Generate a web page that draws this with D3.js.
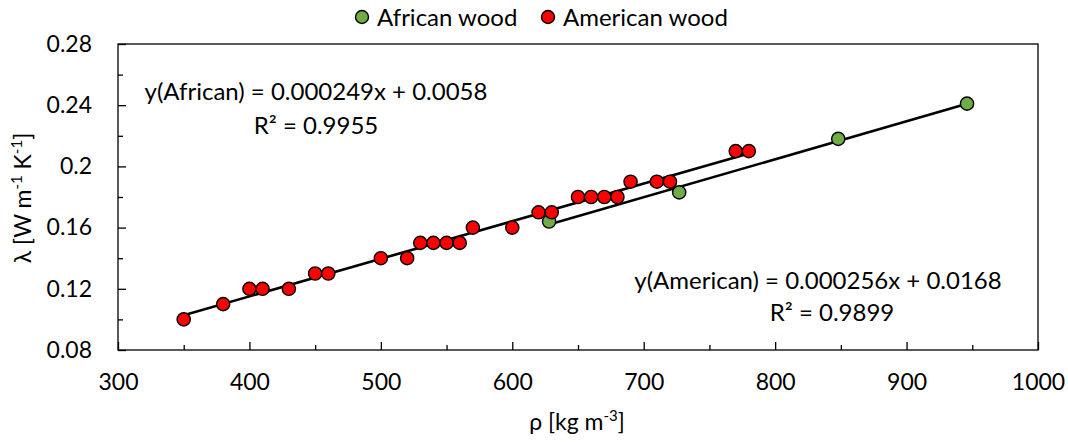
<!DOCTYPE html>
<html>
<head>
<meta charset="utf-8">
<script src="https://cdn.jsdelivr.net/npm/d3@7"></script>
<style>
  body { margin: 0; background: #fff; }
  text { font-family: Lato, "Noto Sans", sans-serif; fill: #000; }
</style>
</head>
<body>
<svg id="chart" width="1068" height="442"></svg>
<script>
// Density (kg m-3) and thermal conductivity (W m-1 K-1) for each wood group
const africanDensity = [628, 727, 848, 946];
const africanLambda  = [0.164, 0.183, 0.218, 0.241];

const americanDensity = [350, 380, 400, 410, 430, 450, 460, 500, 520, 530, 540, 550, 560,
                         570, 600, 620, 630, 650, 660, 670, 680, 690, 710, 720, 770, 780];
const americanLambda  = [0.10, 0.11, 0.12, 0.12, 0.12, 0.13, 0.13, 0.14, 0.14, 0.15, 0.15, 0.15, 0.15,
                         0.16, 0.16, 0.17, 0.17, 0.18, 0.18, 0.18, 0.18, 0.19, 0.19, 0.19, 0.21, 0.21];

const seriesNames = ["African wood", "American wood"];
const seriesColors = ["#70AD47", "#FF0000"];

const xMajorTicks = [300, 400, 500, 600, 700, 800, 900, 1000];
const xMinorTicks = [350, 450, 550, 650, 750, 850, 950];
const yMajorTicks = [0.08, 0.12, 0.16, 0.2, 0.24, 0.28];
const yMinorTicks = [0.10, 0.14, 0.18, 0.22, 0.26];

const africanEquation  = ["y(African) = 0.000249x + 0.0058", "R² = 0.9955"];
const americanEquation = ["y(American) = 0.000256x + 0.0168", "R² = 0.9899"];

const svg = d3.select("#chart");
const plot = { left: 118, top: 44, right: 1038, bottom: 350 };

const x = d3.scaleLinear().domain([300, 1000]).range([plot.left, plot.right]);
const y = d3.scaleLinear().domain([0.08, 0.28]).range([plot.bottom, plot.top]);

// Least-squares linear fit
function linearFit(xs, ys) {
  const mx = d3.mean(xs), my = d3.mean(ys);
  let sxy = 0, sxx = 0;
  xs.forEach((v, i) => { sxy += (v - mx) * (ys[i] - my); sxx += (v - mx) ** 2; });
  const slope = sxy / sxx;
  return { slope, intercept: my - slope * mx };
}

// Plot frame
svg.append("rect")
  .attr("x", plot.left).attr("y", plot.top)
  .attr("width", plot.right - plot.left).attr("height", plot.bottom - plot.top)
  .attr("fill", "none").attr("stroke", "#000").attr("stroke-width", 1.3);

// Axes with inward ticks
svg.append("g").attr("transform", `translate(0,${plot.bottom})`)
  .call(d3.axisBottom(x).tickValues(xMajorTicks).tickSize(-8).tickPadding(24).tickFormat(d3.format("d")));
svg.append("g").attr("transform", `translate(0,${plot.bottom})`)
  .call(d3.axisBottom(x).tickValues(xMinorTicks).tickSize(-5).tickFormat(""));

svg.append("g").attr("transform", `translate(${plot.left},0)`)
  .call(d3.axisLeft(y).tickValues(yMajorTicks).tickSize(-8).tickPadding(26).tickFormat(d => String(+d.toFixed(2))));
svg.append("g").attr("transform", `translate(${plot.left},0)`)
  .call(d3.axisLeft(y).tickValues(yMinorTicks).tickSize(-5).tickFormat(""));

svg.selectAll(".domain").remove();
svg.selectAll(".tick line").attr("stroke", "#000").attr("stroke-width", 1.3);
svg.selectAll(".tick text").attr("font-size", 23).attr("font-family", "Lato, 'Noto Sans', sans-serif").attr("fill", "#000");

// Trend lines
const groups = [
  { xs: africanDensity, ys: africanLambda, color: seriesColors[0] },
  { xs: americanDensity, ys: americanLambda, color: seriesColors[1] }
];

groups.forEach(g => {
  const fit = linearFit(g.xs, g.ys);
  const [x0, x1] = d3.extent(g.xs);
  svg.append("line")
    .attr("x1", x(x0)).attr("y1", y(fit.slope * x0 + fit.intercept))
    .attr("x2", x(x1)).attr("y2", y(fit.slope * x1 + fit.intercept))
    .attr("stroke", "#000").attr("stroke-width", 2.6);
});

// Data markers
groups.forEach(g => {
  svg.append("g").selectAll("circle")
    .data(g.xs.map((v, i) => [v, g.ys[i]]))
    .join("circle")
    .attr("cx", d => x(d[0])).attr("cy", d => y(d[1]))
    .attr("r", 6.6)
    .attr("fill", g.color).attr("stroke", "#000").attr("stroke-width", 1.4);
});

// Regression equations
function equation(lines, cx, baselines) {
  lines.forEach((t, i) => {
    svg.append("text").attr("x", cx[i]).attr("y", baselines[i])
      .attr("text-anchor", "middle").attr("font-size", 24).text(t);
  });
}
equation(africanEquation, [316, 316], [100, 134]);
equation(americanEquation, [818, 832], [289, 321]);

// Legend
const legendX = [362, 548];
seriesNames.forEach((name, i) => {
  svg.append("circle").attr("cx", legendX[i]).attr("cy", 17).attr("r", 6.5)
    .attr("fill", seriesColors[i]).attr("stroke", "#000").attr("stroke-width", 1.4);
  svg.append("text").attr("x", legendX[i] + 15).attr("y", 26)
    .attr("font-size", 24).text(name);
});

// Axis titles
const xTitle = svg.append("text").attr("x", 577).attr("y", 430)
  .attr("text-anchor", "middle").attr("font-size", 23);
xTitle.append("tspan").text("ρ [kg m");
xTitle.append("tspan").attr("font-size", 15).attr("dy", -9).text("-3");
xTitle.append("tspan").attr("dy", 9).text("]");

const yTitle = svg.append("text")
  .attr("transform", "translate(31,198) rotate(-90)")
  .attr("text-anchor", "middle").attr("font-size", 23);
yTitle.append("tspan").text("λ [W m");
yTitle.append("tspan").attr("font-size", 15).attr("dy", -9).text("-1");
yTitle.append("tspan").attr("dy", 9).text(" K");
yTitle.append("tspan").attr("font-size", 15).attr("dy", -9).text("-1");
yTitle.append("tspan").attr("dy", 9).text("]");
</script>
</body>
</html>
